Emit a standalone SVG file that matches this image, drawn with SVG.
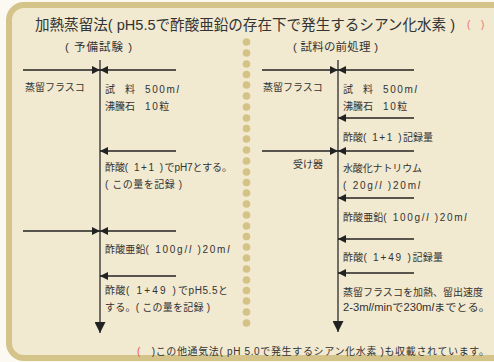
<svg xmlns="http://www.w3.org/2000/svg" width="494" height="362" viewBox="0 0 494 362">
<style>
text{font-family:"Liberation Sans","Noto Sans CJK JP",sans-serif;fill:#333;font-size:10px}
.t{font-size:15px}
.s{font-size:11.5px}
.r{fill:#e85050}
.rp{fill:#f07070;font-size:10px}
.l{letter-spacing:1.6px}
.i{font-style:italic}
.ln{stroke:#222;stroke-width:1.3;fill:none}
.v{stroke:#444;stroke-width:1.5;fill:none}
.dot{fill:#d4c384}
</style>
<defs>
<marker id="ah" viewBox="0 0 10 10" refX="10" refY="5" markerWidth="8" markerHeight="8" markerUnits="userSpaceOnUse" orient="auto"><path d="M0,0 L10,5 L0,10 z" fill="#222"/></marker>
<marker id="ad" viewBox="0 0 10 10" refX="10" refY="5" markerWidth="11" markerHeight="11" markerUnits="userSpaceOnUse" orient="auto"><path d="M0,0 L10,5 L0,10 z" fill="#222"/></marker>
</defs>
<rect width="494" height="362" fill="#fbf9f1"/>
<rect x="9" y="5" width="520" height="353" rx="15" fill="#f1e9d0" stroke="#d4c48a" stroke-width="6"/>
<g id="dots">
<circle class="dot" cx="246.5" cy="42" r="3.8"/><circle class="dot" cx="246.5" cy="53" r="3.8"/><circle class="dot" cx="246.5" cy="64" r="3.8"/><circle class="dot" cx="246.5" cy="74.5" r="3.8"/><circle class="dot" cx="246.5" cy="85" r="3.8"/><circle class="dot" cx="246.5" cy="96" r="3.8"/><circle class="dot" cx="246.5" cy="107" r="3.8"/><circle class="dot" cx="246.5" cy="118" r="3.8"/><circle class="dot" cx="246.5" cy="128.5" r="3.8"/><circle class="dot" cx="246.5" cy="139" r="3.8"/><circle class="dot" cx="246.5" cy="150" r="3.8"/><circle class="dot" cx="246.5" cy="161" r="3.8"/><circle class="dot" cx="246.5" cy="172" r="3.8"/><circle class="dot" cx="246.5" cy="182.5" r="3.8"/><circle class="dot" cx="246.5" cy="193" r="3.8"/><circle class="dot" cx="246.5" cy="204" r="3.8"/><circle class="dot" cx="246.5" cy="215" r="3.8"/><circle class="dot" cx="246.5" cy="226" r="3.8"/><circle class="dot" cx="246.5" cy="236.5" r="3.8"/><circle class="dot" cx="246.5" cy="247" r="3.8"/><circle class="dot" cx="246.5" cy="258" r="3.8"/><circle class="dot" cx="246.5" cy="269" r="3.8"/><circle class="dot" cx="246.5" cy="280" r="3.8"/><circle class="dot" cx="246.5" cy="290.5" r="3.8"/><circle class="dot" cx="246.5" cy="301" r="3.8"/><circle class="dot" cx="246.5" cy="312" r="3.8"/><circle class="dot" cx="246.5" cy="323" r="3.8"/>
</g>
<g id="title">
<text class="t" x="35" y="30" textLength="420" lengthAdjust="spacingAndGlyphs">加熱蒸留法( pH5.5で酢酸亜鉛の存在下で発生するシアン化水素 )</text>
<text class="rp" x="467" y="28">(</text><text class="rp" x="481" y="28">)</text>
</g>
<g id="sub-left"><text class="s" x="65" y="51" textLength="67">( 予備試験 )</text></g>
<g id="sub-right"><text class="s" x="293" y="51" textLength="85">( 試料の前処理 )</text></g>
<g id="connectors">
<path class="v" d="M100,60 V333" marker-end="url(#ad)"/>
<path class="ln" d="M23,70 H100" marker-end="url(#ah)"/>
<path class="ln" d="M176,70 H100" marker-end="url(#ah)"/>
<path class="ln" d="M176,151 H100" marker-end="url(#ah)"/>
<path class="ln" d="M23,231 H100" marker-end="url(#ah)"/>
<path class="ln" d="M176,231 H100" marker-end="url(#ah)"/>
<path class="ln" d="M176,276 H100" marker-end="url(#ah)"/>
<path class="v" d="M338,60 V332" marker-end="url(#ad)"/>
<path class="ln" d="M262,70 H338" marker-end="url(#ah)"/>
<path class="ln" d="M414,70 H338" marker-end="url(#ah)"/>
<path class="ln" d="M414,118 H338" marker-end="url(#ah)"/>
<path class="ln" d="M262,151 H338" marker-end="url(#ah)"/>
<path class="ln" d="M414,151 H338" marker-end="url(#ah)"/>
<path class="ln" d="M414,198 H338" marker-end="url(#ah)"/>
<path class="ln" d="M414,239 H338" marker-end="url(#ah)"/>
<path class="ln" d="M414,273 H338" marker-end="url(#ah)"/>
</g>
<g id="left-flask"><text x="25" y="91">蒸留フラスコ</text></g>
<g id="left-sample">
<text x="105" y="93">試　料　<tspan class="l">500m<tspan class="i">l</tspan></tspan></text>
<text x="105" y="110">沸騰石　<tspan class="l">10</tspan>粒</text>
</g>
<g id="left-acetic1">
<text x="105" y="171" textLength="127">酢酸<tspan class="l">( 1+1 )</tspan>でpH7とする。</text>
<text x="105" y="188" textLength="77">( この量を記録 )</text>
</g>
<g id="left-zinc"><text x="105" y="253" textLength="126">酢酸亜鉛<tspan class="l">( 100g/<tspan class="i">l</tspan> )20m<tspan class="i">l</tspan></tspan></text></g>
<g id="left-acetic2">
<text x="105" y="294" textLength="123">酢酸<tspan class="l">( 1+49 )</tspan>でpH5.5と</text>
<text x="105" y="311" textLength="105">する。( この量を記録 )</text>
</g>
<g id="right-flask"><text x="263" y="91">蒸留フラスコ</text></g>
<g id="right-sample">
<text x="343" y="93">試　料　<tspan class="l">500m<tspan class="i">l</tspan></tspan></text>
<text x="343" y="110">沸騰石　<tspan class="l">10</tspan>粒</text>
</g>
<g id="right-acetic1"><text x="343" y="141" textLength="90">酢酸<tspan class="l">( 1+1 )</tspan>記録量</text></g>
<g id="receiver"><text x="293" y="168">受け器</text></g>
<g id="right-naoh">
<text x="343" y="172" textLength="79">水酸化ナトリウム</text>
<text x="343" y="189" textLength="77">( 20g/<tspan class="i">l</tspan> )20m<tspan class="i">l</tspan></text>
</g>
<g id="right-zinc"><text x="343" y="221" textLength="125">酢酸亜鉛<tspan class="l">( 100g/<tspan class="i">l</tspan> )20m<tspan class="i">l</tspan></tspan></text></g>
<g id="right-acetic2"><text x="343" y="261" textLength="100">酢酸<tspan class="l">( 1+49 )</tspan>記録量</text></g>
<g id="right-heat">
<text x="343" y="296" textLength="140">蒸留フラスコを加熱、留出速度</text>
<text x="343" y="311" textLength="147" lengthAdjust="spacingAndGlyphs">2-3m<tspan class="i">l</tspan>/minで230m<tspan class="i">l</tspan>までとる。</text>
</g>
<g id="footer"><text x="137" y="355" textLength="352"><tspan class="r">(</tspan>　)この他通気法( pH 5.0で発生するシアン化水素 )も収載されています。</text></g>
</svg>
